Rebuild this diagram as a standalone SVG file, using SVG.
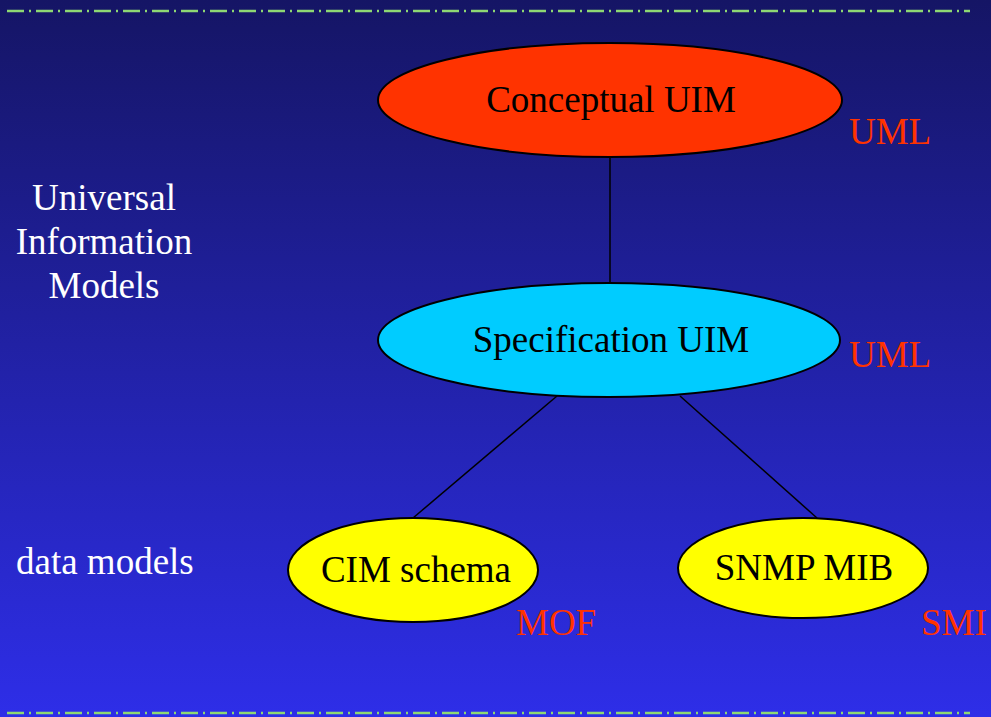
<svg xmlns="http://www.w3.org/2000/svg" width="991" height="717" viewBox="0 0 991 717">
<defs>
<linearGradient id="bg" x1="0" y1="0" x2="0" y2="1">
<stop offset="0" stop-color="#151565"/>
<stop offset="1" stop-color="#2e2ee8"/>
</linearGradient>
<style>
.node ellipse{stroke:#000;stroke-width:2}
.lbl{font-family:"Liberation Serif","Times New Roman",serif;font-size:37px;fill:#000;text-anchor:middle}
.red{font-family:"Liberation Serif","Times New Roman",serif;font-size:37px;fill:#ff3300}
.side{font-family:"Liberation Serif","Times New Roman",serif;font-size:37px;fill:#fff}
.dash{stroke:#8ed873;stroke-width:2.5;stroke-dasharray:17 5 2 5;fill:none}
#connectors line{stroke:#000;stroke-width:1.5}
</style>
</defs>
<rect width="991" height="717" fill="url(#bg)"/>
<line class="dash" x1="7" y1="11" x2="970" y2="11"/>
<line class="dash" x1="7" y1="713" x2="970" y2="713"/>
<g id="connectors">
<line x1="610" y1="157" x2="610" y2="283"/>
<line x1="557" y1="396" x2="413" y2="518"/>
<line x1="680" y1="396" x2="817" y2="518"/>
</g>
<g id="conceptual" class="node">
<ellipse cx="610" cy="100" rx="232" ry="57" fill="#ff3300"/>
<text class="lbl" x="611" y="112">Conceptual UIM</text>
</g>
<g id="specification" class="node">
<ellipse cx="609" cy="340" rx="231" ry="57" fill="#00ccff"/>
<text class="lbl" x="611" y="352">Specification UIM</text>
</g>
<g id="cim" class="node">
<ellipse cx="413" cy="570" rx="125" ry="52" fill="#ffff00"/>
<text class="lbl" x="416" y="582">CIM schema</text>
</g>
<g id="snmp" class="node">
<ellipse cx="803" cy="568" rx="125" ry="50" fill="#ffff00"/>
<text class="lbl" x="804" y="580">SNMP MIB</text>
</g>
<text class="red" x="849" y="144">UML</text>
<text class="red" x="849" y="367">UML</text>
<text class="red" x="516" y="635">MOF</text>
<text class="red" x="921" y="635">SMI</text>
<text class="side" x="104" y="210" text-anchor="middle">Universal</text>
<text class="side" x="104" y="254" text-anchor="middle">Information</text>
<text class="side" x="104" y="298" text-anchor="middle">Models</text>
<text class="side" x="16" y="574">data models</text>
</svg>
